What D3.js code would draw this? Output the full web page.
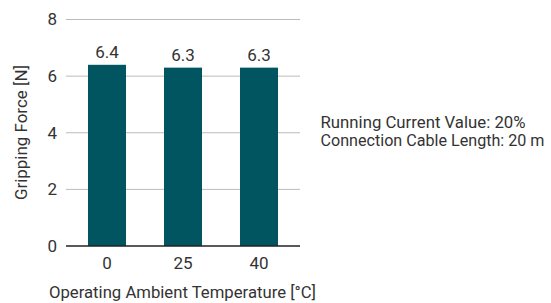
<!DOCTYPE html>
<html>
<head>
<meta charset="utf-8">
<script src="https://cdn.jsdelivr.net/npm/d3@7"></script>
<style>
  body { margin: 0; background: #fff; }
  text { font-family: "Roboto", sans-serif; fill: #333; }
</style>
</head>
<body>
<svg id="chart" width="551" height="303"></svg>
<script>
const temperatures = ['0', '25', '40'];
const grippingForce = [6.4, 6.3, 6.3];
const yTicks = [0, 2, 4, 6, 8];
const notes = ['Running Current Value: 20%', 'Connection Cable Length: 20 m'];

const svg = d3.select('#chart');
const plotLeft = 66, plotRight = 300, plotTop = 19.5, plotBottom = 246;
const fontSize = 17;

const x = d3.scaleBand().domain(temperatures).range([69, 297]).paddingInner(0.5).paddingOuter(0.25);
const y = d3.scaleLinear().domain([0, 8]).range([plotBottom, plotTop]);

// gridlines
svg.append('g')
  .selectAll('line')
  .data(yTicks.filter(d => d > 0))
  .join('line')
  .attr('x1', plotLeft).attr('x2', plotRight)
  .attr('y1', d => y(d)).attr('y2', d => y(d))
  .attr('stroke', '#bbb').attr('stroke-width', 1);

// y tick labels
svg.append('g')
  .selectAll('text')
  .data(yTicks)
  .join('text')
  .attr('x', 57).attr('y', d => y(d))
  .attr('dy', '0.35em')
  .attr('text-anchor', 'end')
  .attr('font-size', fontSize)
  .text(d => d);

// bars
svg.append('g')
  .selectAll('rect')
  .data(grippingForce)
  .join('rect')
  .attr('x', (d, i) => x(temperatures[i]))
  .attr('width', x.bandwidth())
  .attr('y', d => y(d))
  .attr('height', d => y(0) - y(d))
  .attr('fill', '#005560');

// value labels
svg.append('g')
  .selectAll('text')
  .data(grippingForce)
  .join('text')
  .attr('x', (d, i) => x(temperatures[i]) + x.bandwidth() / 2)
  .attr('y', d => y(d) - 7)
  .attr('text-anchor', 'middle')
  .attr('font-size', fontSize)
  .text(d => d.toFixed(1));

// baseline
svg.append('line')
  .attr('x1', plotLeft).attr('x2', plotRight)
  .attr('y1', y(0)).attr('y2', y(0))
  .attr('stroke', '#222').attr('stroke-width', 1.5);

// x tick labels
svg.append('g')
  .selectAll('text')
  .data(temperatures)
  .join('text')
  .attr('x', d => x(d) + x.bandwidth() / 2)
  .attr('y', 269)
  .attr('text-anchor', 'middle')
  .attr('font-size', fontSize)
  .text(d => d);

// axis titles
svg.append('text')
  .attr('x', 182.5).attr('y', 298)
  .attr('text-anchor', 'middle')
  .attr('font-size', fontSize)
  .attr('textLength', 267).attr('lengthAdjust', 'spacingAndGlyphs')
  .text('Operating Ambient Temperature [°C]');

svg.append('text')
  .attr('transform', 'translate(27,132.5) rotate(-90)')
  .attr('text-anchor', 'middle')
  .attr('font-size', fontSize)
  .attr('textLength', 135).attr('lengthAdjust', 'spacingAndGlyphs')
  .text('Gripping Force [N]');

// notes
const noteWidths = [205, 224];
svg.append('g')
  .selectAll('text')
  .data(notes)
  .join('text')
  .attr('x', 320.5)
  .attr('y', (d, i) => 128 + i * 18)
  .attr('font-size', 16)
  .attr('textLength', (d, i) => noteWidths[i]).attr('lengthAdjust', 'spacingAndGlyphs')
  .text(d => d);
</script>
</body>
</html>
